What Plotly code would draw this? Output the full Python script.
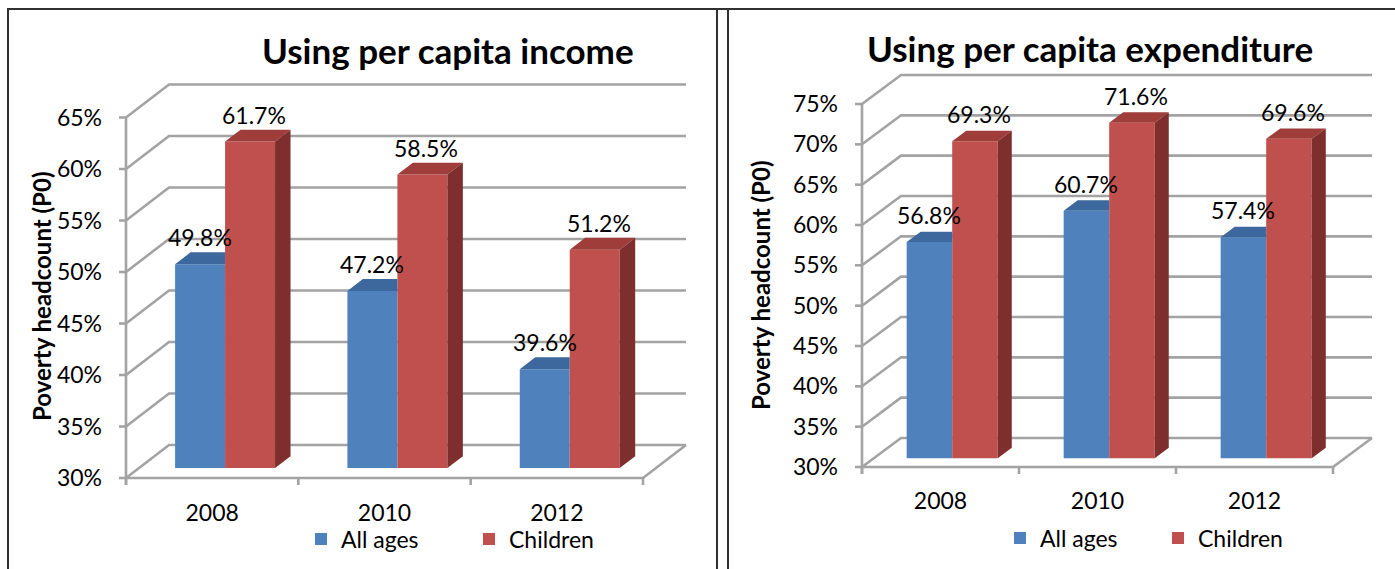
import plotly.graph_objects as go

# ---------------- data ----------------
years = ["2008", "2010", "2012"]
series_names = ["All ages", "Children"]
income_all_ages = [49.8, 47.2, 39.6]
income_children = [61.7, 58.5, 51.2]
expend_all_ages = [56.8, 60.7, 57.4]
expend_children = [69.3, 71.6, 69.6]
income_ticks = [30, 35, 40, 45, 50, 55, 60, 65]
expend_ticks = [30, 35, 40, 45, 50, 55, 60, 65, 70, 75]
panel_titles = ["Using per capita income", "Using per capita expenditure"]
y_title = "Poverty headcount (P0)"

# ---------------- style ----------------
W, H = 1395, 569
FONT = "Lato"
BLUE, BLUE_TOP, BLUE_SIDE = "#4F81BD", "#3D689D", "#345A88"
RED, RED_TOP, RED_SIDE = "#C0504D", "#9E3D3A", "#7E2F2D"
GRID = "#A3A3A3"
GRID_W = 2.6

panels = [
    dict(values=[income_all_ages, income_children], ticks=income_ticks, title=panel_titles[0],
         x0=126, x1=643, y30=478, ytop=117.5, dx=43, dy=-33, title_xy=(448, 50),
         ytitle_xy=(41, 297), xlab_gap=32, legend_x=301, legend_y=539, entry=123,
         xa="x", ya="y", lg="legend"),
    dict(values=[expend_all_ages, expend_children], ticks=expend_ticks, title=panel_titles[1],
         x0=862, x1=1333, y30=467, ytop=104, dx=39, dy=-29, title_xy=(1090, 48),
         ytitle_xy=(760, 286), xlab_gap=31, legend_x=1000, legend_y=538, entry=113,
         xa="x2", ya="y2", lg="legend2"),
]

BAR_W = 0.29      # bar width as fraction of category
FRONT = 0.30      # depth position of bar front (fraction of wall depth)
DEPTH = 0.36      # bar depth (fraction of wall depth)

fig = go.Figure()
shapes = []
annotations = []
layout_axes = {}

for p in panels:
    ticks = p["ticks"]
    n = len(years)
    cat_px = (p["x1"] - p["x0"]) / n
    ppp = (p["y30"] - p["ytop"]) / (ticks[-1] - ticks[0])
    ymin = ticks[0]
    ymax = ticks[-1]
    ddx = p["dx"] / cat_px
    ddy = -p["dy"] / ppp
    # domain in pixels
    left_px = p["x0"] - 14
    right_px = p["x1"] + p["dx"] + 6
    bottom_px = p["y30"] + 12
    top_px = p["ytop"] + p["dy"] - 6
    xr = [-0.5 + (left_px - p["x0"]) / cat_px, -0.5 + (right_px - p["x0"]) / cat_px]
    yr = [ymin + (p["y30"] - bottom_px) / ppp, ymin + (p["y30"] - top_px) / ppp]
    xa, ya = p["xa"], p["ya"]
    axname = "xaxis" + xa[1:]
    ayname = "yaxis" + ya[1:]
    layout_axes[axname] = dict(
        domain=[left_px / W, right_px / W], range=xr, showgrid=False, zeroline=False,
        showline=False, ticks="", tickvals=list(range(n)), ticktext=years,
        tickfont=dict(family=FONT, size=23, color="black"),
        ticklabelstandoff=p["xlab_gap"] - 12 - 13, anchor=ya, fixedrange=True)
    layout_axes[ayname] = dict(
        domain=[1 - bottom_px / H, 1 - top_px / H], range=yr, showgrid=False, zeroline=False,
        showline=False, ticks="", tickvals=ticks, ticktext=[f"{t}%" for t in ticks],
        tickfont=dict(family=FONT, size=23, color="black"),
        ticklabelstandoff=25 - 14 - 2, anchor=xa, fixedrange=True)

    x0u, x1u = -0.5, n - 0.5
    line = dict(color=GRID, width=GRID_W)
    # wall gridlines
    for t in ticks:
        shapes.append(dict(type="path", xref=xa, yref=ya, layer="below", line=line,
                           path=f"M{x0u},{t} L{x0u + ddx},{t + ddy} L{x1u + ddx},{t + ddy}"))
        shapes.append(dict(type="line", xref=xa, yref=ya, layer="below", line=line,
                           x0=x0u - 7 / cat_px, x1=x0u, y0=t, y1=t))
    # floor
    shapes.append(dict(type="path", xref=xa, yref=ya, layer="below", line=line,
                       path=f"M{x0u},{ymin} L{x1u},{ymin} L{x1u + ddx},{ymin + ddy}"))
    # front axis
    shapes.append(dict(type="line", xref=xa, yref=ya, layer="below", line=line,
                       x0=x0u, x1=x0u, y0=ymin - 7 / ppp, y1=ymax))
    # category boundary ticks
    for k in range(n + 1):
        b = -0.5 + k
        shapes.append(dict(type="line", xref=xa, yref=ya, layer="below", line=line,
                           x0=b, x1=b, y0=ymin, y1=ymin - 7 / ppp))

    # bars (front faces)
    base = ymin + FRONT * ddy
    sx = FRONT * ddx
    bdx, bdy = DEPTH * ddx, DEPTH * ddy
    colors = [(BLUE, BLUE_TOP, BLUE_SIDE), (RED, RED_TOP, RED_SIDE)]
    offsets = [-BAR_W + sx, sx]
    label_px = [0, 4]
    for s, vals in enumerate(p["values"]):
        fig.add_trace(go.Bar(
            x=list(range(n)), y=[v - ymin for v in vals], base=base, width=BAR_W,
            offset=offsets[s], marker=dict(color=colors[s][0], line=dict(width=0)),
            name=series_names[s], xaxis=xa, yaxis=ya, legend=p["lg"],
            customdata=vals, hovertemplate="%{customdata}%<extra></extra>"))
    # top & side faces
    for s, vals in enumerate(p["values"]):
        tx, ty, sxs, sys_ = [], [], [], []
        for i, v in enumerate(vals):
            xl = i + offsets[s]
            xrr = xl + BAR_W
            top = v + FRONT * ddy
            if s == 0:
                # visible part of top face (right part hidden behind next bar)
                tx += [xl, xrr, xrr, xl + bdx, xl, None]
                ty += [top, top, top + bdy, top + bdy, top, None]
            else:
                tx += [xl, xrr, xrr + bdx, xl + bdx, xl, None]
                ty += [top, top, top + bdy, top + bdy, top, None]
                sxs += [xrr, xrr, xrr + bdx, xrr + bdx, xrr, None]
                sys_ += [base, top, top + bdy, base + bdy, base, None]
        fig.add_trace(go.Scatter(x=tx, y=ty, mode="lines", fill="toself", fillcolor=colors[s][1],
                                 line=dict(width=0), showlegend=False, hoverinfo="skip",
                                 xaxis=xa, yaxis=ya))
        if sxs:
            fig.add_trace(go.Scatter(x=sxs, y=sys_, mode="lines", fill="toself", fillcolor=colors[s][2],
                                     line=dict(width=0), showlegend=False, hoverinfo="skip",
                                     xaxis=xa, yaxis=ya))
        # data labels
        for i, v in enumerate(vals):
            xc = i + offsets[s] + BAR_W / 2 + label_px[s] / cat_px
            annotations.append(dict(x=xc, y=v + FRONT * ddy, xref=xa, yref=ya, text=f"{v}%",
                                    showarrow=False, yshift=27, yanchor="middle",
                                    font=dict(family=FONT, size=23, color="black")))
    # titles
    annotations.append(dict(x=p["title_xy"][0] / W, y=1 - p["title_xy"][1] / H, xref="paper",
                            yref="paper", text=f"<b>{p['title']}</b>", showarrow=False,
                            xanchor="center", yanchor="middle",
                            font=dict(family=FONT, size=35, color="black")))
    annotations.append(dict(x=p["ytitle_xy"][0] / W, y=1 - p["ytitle_xy"][1] / H, xref="paper",
                            yref="paper", text=f"<b>{y_title}</b>", showarrow=False, textangle=-90,
                            xanchor="center", yanchor="middle",
                            font=dict(family=FONT, size=24, color="black")))
    layout_axes[p["lg"]] = dict(orientation="h", x=p["legend_x"] / W, y=1 - p["legend_y"] / H,
                                xanchor="left", yanchor="middle", bgcolor="rgba(0,0,0,0)",
                                font=dict(family=FONT, size=23, color="black"),
                                entrywidth=p["entry"], entrywidthmode="pixels", traceorder="normal")

# panel frames
frame = dict(color="#303030", width=2)
for (fx0, fy0, fx1, fy1) in [(7, 9, W, 9), (8, 9, 8, H), (717, 9, 717, H), (728, 9, 728, H)]:
    shapes.append(dict(type="line", xref="paper", yref="paper", layer="above", line=frame,
                       x0=fx0 / W, x1=fx1 / W, y0=1 - fy0 / H, y1=1 - fy1 / H))

fig.update_layout(
    width=W, height=H, margin=dict(l=0, r=0, t=0, b=0),
    paper_bgcolor="white", plot_bgcolor="rgba(0,0,0,0)",
    barmode="overlay", showlegend=True,
    shapes=shapes, annotations=annotations, **layout_axes)

fig.write_html("out.html")
